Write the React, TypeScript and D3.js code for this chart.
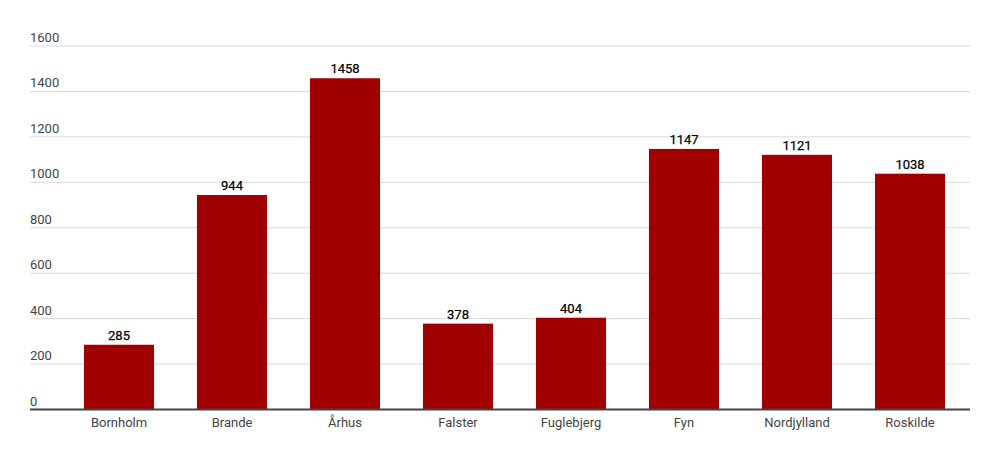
import React from "react";
import * as d3 from "d3";

const categories = ["Bornholm", "Brande", "Århus", "Falster", "Fuglebjerg", "Fyn", "Nordjylland", "Roskilde"];
const values = [285, 944, 1458, 378, 404, 1147, 1121, 1038];
const yTicks = [0, 200, 400, 600, 800, 1000, 1200, 1400, 1600];

const W = 1000;
const H = 462;

export default function App() {
  const x = d3.scaleBand<string>().domain(categories).range([62.5, 966.5]).paddingInner(0.38).paddingOuter(0.19);
  const y = d3.scaleLinear().domain([0, 1600]).range([409.5, 46]);
  const font = "Roboto, 'Noto Sans', sans-serif";
  return (
    <svg width={W} height={H} style={{ position: "absolute", left: 0, top: 0, background: "#fff" }}>
      {yTicks.map((t) => (
        <g key={t}>
          {t !== 0 && <line x1={30} x2={970} y1={y(t)} y2={y(t)} stroke="#d9d9d9" strokeWidth={1} />}
          <text x={30} y={y(t) - 4} fontFamily={font} fontSize={13} fill="#444">{t}</text>
        </g>
      ))}
      {categories.map((c, i) => (
        <g key={c}>
          <rect x={x(c)} y={y(values[i])} width={x.bandwidth()} height={y(0) - y(values[i])} fill="#a00000" />
          <text x={(x(c) as number) + x.bandwidth() / 2} y={y(values[i]) - 5} textAnchor="middle" fontFamily={font} fontSize={13} fill="#000" stroke="#000" strokeWidth={0.25}>{values[i]}</text>
          <text x={(x(c) as number) + x.bandwidth() / 2} y={427} textAnchor="middle" fontFamily={font} fontSize={13} fill="#444">{c}</text>
        </g>
      ))}
      <line x1={30} x2={970} y1={y(0)} y2={y(0)} stroke="#444" strokeWidth={2} />
    </svg>
  );
}
